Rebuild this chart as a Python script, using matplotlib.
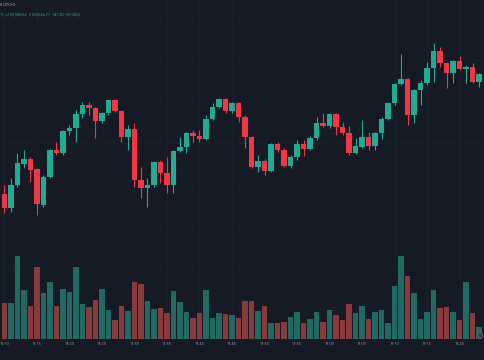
import matplotlib
matplotlib.use("Agg")
import matplotlib.pyplot as plt
from matplotlib.ticker import MultipleLocator

# ------------------------------------------------
# Data: 1-minute candles, 18:10 .. 19:23 (UTC+3)
# ------------------------------------------------
opens = [104946, 104862, 105000, 105126, 105156, 105096, 104880, 105048, 105210, 105192,
         105324, 105342, 105426, 105480, 105462, 105384, 105432, 105510, 105444, 105288,
         105336, 105030, 104982, 105000, 105138, 105072, 105000, 105204, 105228, 105312,
         105294, 105276, 105396, 105468, 105516, 105444, 105492, 105408, 105288, 105108,
         105144, 105084, 105246, 105210, 105114, 105168, 105246, 105216, 105282, 105372,
         105354, 105426, 105348, 105312, 105192, 105228, 105288, 105234, 105312, 105396,
         105492, 105606, 105636, 105420, 105570, 105612, 105702, 105804, 105732, 105672,
         105744, 105696, 105708, 105618.89]
closes = [104862, 105000, 105132, 105156, 105090, 104886, 105048, 105210, 105192, 105324,
          105342, 105426, 105480, 105462, 105384, 105432, 105510, 105444, 105288, 105336,
          105030, 104982, 105000, 105138, 105072, 105000, 105204, 105228, 105312, 105294,
          105276, 105396, 105468, 105516, 105444, 105492, 105408, 105288, 105108, 105144,
          105084, 105246, 105210, 105114, 105168, 105246, 105216, 105282, 105372, 105354,
          105426, 105348, 105312, 105192, 105234, 105288, 105234, 105312, 105396, 105492,
          105606, 105636, 105420, 105570, 105612, 105702, 105804, 105732, 105672, 105744,
          105696, 105708, 105618, 105666.71]
highs = [105000, 105042, 105192, 105210, 105168, 105102, 105060, 105216, 105258, 105330,
         105360, 105450, 105498, 105498, 105468, 105438, 105516, 105516, 105450, 105360,
         105372, 105108, 105042, 105144, 105150, 105168, 105210, 105288, 105318, 105330,
         105330, 105420, 105492, 105522, 105522, 105498, 105498, 105420, 105294, 105180,
         105156, 105252, 105258, 105222, 105180, 105270, 105270, 105294, 105408, 105432,
         105432, 105432, 105378, 105354, 105282, 105390, 105318, 105318, 105408, 105498,
         105612, 105786, 105642, 105576, 105630, 105738, 105852, 105828, 105738, 105750,
         105774, 105720, 105732, 105672]
lows = [104832, 104838, 104988, 105102, 105018, 104820, 104868, 105042, 105180, 105180,
        105300, 105258, 105402, 105420, 105282, 105372, 105420, 105438, 105258, 105210,
        104988, 104922, 104868, 104988, 105012, 104952, 104952, 105198, 105192, 105258,
        105258, 105270, 105390, 105462, 105432, 105432, 105378, 105222, 105102, 105078,
        105060, 105078, 105198, 105108, 105102, 105150, 105174, 105210, 105270, 105348,
        105342, 105300, 105300, 105180, 105186, 105222, 105210, 105210, 105276, 105390,
        105480, 105600, 105360, 105372, 105480, 105600, 105618, 105708, 105582, 105612,
        105690, 105612, 105612, 105585.64]
volumes = [3.6, 3.6, 8.3, 4.9, 3.3, 7.2, 4.6, 5.7, 3.3, 5.0,
           4.7, 7.2, 3.5, 3.2, 3.9, 5.0, 2.9, 1.9, 3.3, 2.8,
           5.7, 5.5, 3.8, 3.0, 3.1, 2.6, 4.8, 3.7, 2.7, 2.1,
           2.6, 4.9, 2.1, 2.6, 2.5, 2.4, 2.1, 3.8, 3.8, 2.8,
           3.3, 1.6, 1.6, 1.7, 2.2, 2.7, 1.6, 2.0, 2.7, 1.7,
           2.9, 2.4, 1.9, 3.5, 2.6, 3.3, 2.0, 2.7, 2.9, 1.6,
           5.3, 8.3, 6.3, 4.6, 2.0, 2.7, 4.9, 3.1, 3.2, 2.7,
           1.9, 5.7, 2.6, 1.2]
tick_pos = list(range(0, 71, 5))
tick_labels = ["18:10", "18:15", "18:20", "18:25", "18:30", "18:35", "18:40", "18:45",
               "18:50", "18:55", "19:00", "19:05", "19:10", "19:15", "19:20"]

BG = "#161a25"
GRID = "#1b1f2b"
UP = "#22ab94"
DOWN = "#f23645"
VOL_UP = "#216a63"
VOL_DOWN = "#883a3c"
TXT = "#8f939c"

plt.rcParams["font.family"] = ["Roboto", "DejaVu Sans"]

fig = plt.figure(figsize=(4.85, 3.6), dpi=100)
fig.patch.set_facecolor(BG)
rect = [0, 20 / 360, 1, 340 / 360]

# background + grid + time axis
base = fig.add_axes(rect)
base.set_facecolor(BG)
base.set_xlim(-0.69, 73.92)
base.set_ylim(104070, 106110)
base.set_xticks(tick_pos)
base.set_xticklabels(tick_labels)
base.yaxis.set_major_locator(MultipleLocator(250))
base.tick_params(axis="x", length=0, pad=1.6, labelsize=2.9, colors=TXT)
base.tick_params(axis="y", left=False, labelleft=False)
base.grid(True, color=GRID, linewidth=0.6)
for s in base.spines.values():
    s.set_visible(False)
base.axhline(104070, color="#262a35", linewidth=0.6)

n = len(opens)
idx = list(range(n))
is_up = [c >= o for o, c in zip(opens, closes)]

# volume overlay
vax = fig.add_axes(rect, sharex=base)
vax.set_facecolor("none")
vax.bar(idx, volumes, width=0.86,
        color=[VOL_UP if u else VOL_DOWN for u in is_up], linewidth=0)
vax.set_ylim(-0.1, 33.9)
vax.axis("off")

# candles
ax = fig.add_axes(rect, sharex=base)
ax.set_facecolor("none")
cols = [UP if u else DOWN for u in is_up]
ax.vlines(idx, lows, highs, colors=cols, linewidth=0.8)
ax.bar(idx, [max(abs(c - o), 12) for o, c in zip(opens, closes)],
       bottom=[min(o, c) for o, c in zip(opens, closes)],
       width=0.78, color=cols, linewidth=0)
ax.set_ylim(104070, 106110)
ax.axis("off")

ax.plot([0.9897], [0.0147], marker="o", markersize=3.6, color="#4b2a5c",
        markeredgecolor="#7d4f95", markeredgewidth=0.5, transform=ax.transAxes,
        clip_on=False)

# legend text (top-left, cut off in the screenshot)
fig.text(0.0, 1 - 5 / 360, "S UTC+3", fontsize=2.8, color="#b2b5be",
         ha="left", va="center")
fig.text(0.0, 1 - 14.5 / 360, "1)  L105,585.64  C105,666.71  +47.82 (+0.04%)",
         fontsize=2.8, color=UP, ha="left", va="center")

fig.savefig("out.png", dpi=100, facecolor=BG)
